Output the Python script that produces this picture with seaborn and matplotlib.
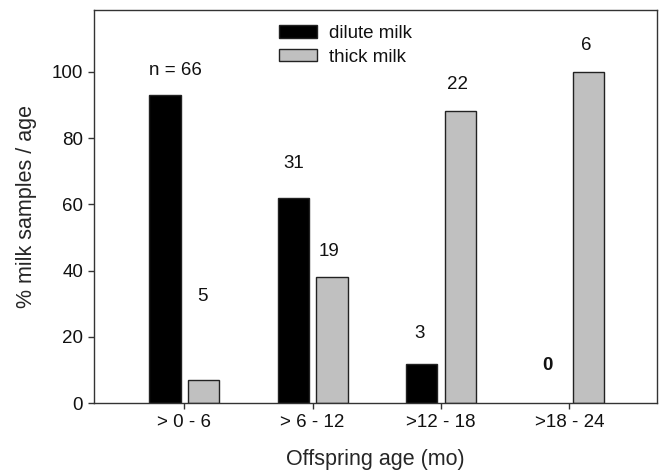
import matplotlib
matplotlib.use("Agg")
import matplotlib.pyplot as plt
import seaborn as sns
import pandas as pd
import numpy as np

# ---- data ----
age_groups = ["> 0 - 6", "> 6 - 12", ">12 - 18", ">18 - 24"]
dilute_pct = [93, 62, 12, 0]
thick_pct = [7, 38, 88, 100]
dilute_n = ["n = 66", "31", "3", "0"]
thick_n = ["5", "19", "22", "6"]
series_names = ["dilute milk", "thick milk"]

# label placement (data units above baseline)
dilute_label_y = [100.3, 72.4, 21.1, 11.5]
thick_label_y = [32.3, 45.7, 96.0, 108.0]
dilute_label_dx = [-0.07, -0.15, -0.17, -0.17]
thick_label_dx = [0.14, 0.13, 0.13, 0.13]

df = pd.DataFrame({
    "age": age_groups * 2,
    "pct": dilute_pct + thick_pct,
    "milk": [series_names[0]] * 4 + [series_names[1]] * 4,
})

sns.set_theme(style="white")
plt.rcParams["font.family"] = ["Liberation Sans", "DejaVu Sans"]
plt.rcParams["text.color"] = "#111111"

fig = plt.figure(figsize=(6.62, 4.74), dpi=100)
ax = fig.add_axes([94.3 / 662, 1 - 403.3 / 474, (656.7 - 94.3) / 662, (403.3 - 10) / 474])

sns.barplot(data=df, x="age", y="pct", hue="milk", order=age_groups,
            hue_order=series_names, palette=["#000000", "#c0c0c0"],
            width=0.604, gap=0.19, edgecolor="#222222", linewidth=1.0,
            saturation=1, ax=ax, legend=True)

# hide outline of empty bars
for cont in ax.containers:
    for bar in cont:
        if bar.get_height() == 0:
            bar.set_linewidth(0)

ax.set_xlim(-0.701, 3.681)
ax.set_ylim(0, 118.6)
ax.set_yticks([0, 20, 40, 60, 80, 100])

for i in range(len(age_groups)):
    ax.text(i + dilute_label_dx[i], dilute_label_y[i], dilute_n[i], ha="center", va="center",
            fontsize=13.5, fontweight="bold" if dilute_n[i] == "0" else "normal")
    ax.text(i + thick_label_dx[i], thick_label_y[i], thick_n[i], ha="center", va="center",
            fontsize=13.5)

for s in ax.spines.values():
    s.set_visible(True)
    s.set_color("#333333")
    s.set_linewidth(1.0)

ax.tick_params(axis="both", which="both", direction="out", length=4, width=1,
               color="#333333", labelsize=13.5, labelcolor="#111111",
               left=True, bottom=True, top=False, right=False, pad=4)

ax.set_xlabel("Offspring age (mo)", fontsize=15.5, labelpad=13)
ax.set_ylabel("% milk samples / age", fontsize=15.5, labelpad=11)

handles, labels = ax.get_legend_handles_labels()
for h in handles:
    h.set_edgecolor("#222222")
    h.set_linewidth(1.0)
ax.legend(handles, labels, loc="upper left",
          bbox_to_anchor=(279 / 662, 1 - 25 / 474), bbox_transform=fig.transFigure,
          frameon=False, fontsize=13.5, handlelength=2.05, handleheight=0.65,
          handletextpad=0.6, labelspacing=0.35, borderpad=0, borderaxespad=0)

fig.savefig("out.png", dpi=100)
